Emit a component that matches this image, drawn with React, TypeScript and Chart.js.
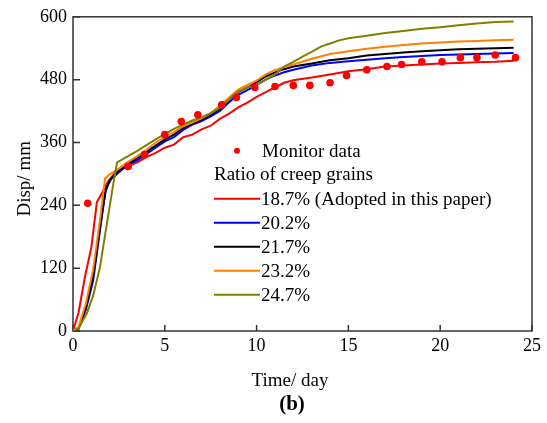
import React, { useEffect, useRef } from 'react';
import { Chart, registerables } from 'chart.js';

Chart.register(...registerables);

// ---- data ----
const monitorDays = [0.8, 3, 3.9, 5, 5.9, 6.8, 8.1, 8.9, 9.9, 11, 12, 12.9, 14, 14.9, 16, 17.1, 17.9, 19, 20.1, 21.1, 22, 23, 24.1];
const monitorDisp = [244, 314, 337, 375, 400, 413, 432, 446, 465, 467, 469, 469, 474, 488, 499, 505, 509, 514, 514, 522, 522, 527, 522];

const r187Days = [0, 0.3, 0.65, 1.0, 1.3, 1.6, 1.9, 2.3, 3, 3.5, 4, 4.5, 5, 5.5, 6, 6.5, 7, 7.5, 8, 8.5, 9, 9.5, 10, 10.5, 11, 11.5, 12, 13, 14, 15, 16, 17, 18, 19, 20, 21, 22, 23, 24];
const r187Disp = [0, 35, 103, 160, 246, 265, 285, 303, 315, 322, 332, 340, 350, 356, 370, 375, 385, 392, 405, 415, 427, 436, 447, 456, 465, 474, 479, 484, 490, 496, 500, 505, 507, 509, 511, 512, 513, 514, 516];

const r202Days = [0, 0.3, 0.7, 1.1, 1.47, 1.74, 2.0, 2.5, 3, 3.5, 4, 4.5, 5, 5.5, 6, 6.5, 7, 7.5, 8, 8.5, 9, 9.5, 10, 10.5, 11, 11.5, 12, 13, 14, 15, 16, 17, 18, 19, 20, 21, 22, 23, 24];
const r202Disp = [0, 4, 40, 97, 192, 263, 288, 303, 318, 326, 338, 350, 362, 370, 384, 394, 401, 410, 420, 437, 451, 460, 470, 480, 488, 494, 499, 507, 512, 515, 518, 521, 523, 525, 527, 528, 529, 530, 531];

const r217Days = [0, 0.3, 0.7, 1.1, 1.5, 1.8, 2.1, 2.5, 3, 3.5, 4, 4.5, 5, 5.5, 6, 6.5, 7, 7.5, 8, 8.5, 9, 9.5, 10, 10.5, 11, 11.5, 12, 13, 14, 15, 16, 17, 18, 19, 20, 21, 22, 23, 24];
const r217Disp = [0, 5, 45, 105, 205, 272, 292, 306, 320, 330, 342, 354, 366, 375, 388, 396, 404, 413, 424, 442, 456, 465, 475, 486, 494, 500, 505, 511, 517, 521, 526, 529, 532, 534, 536, 538, 539, 540, 541];

const r232Days = [0, 0.3, 0.7, 1.1, 1.5, 1.74, 2.0, 2.5, 3, 3.5, 4, 4.5, 5, 5.5, 6, 6.5, 7, 7.5, 8, 8.5, 9, 9.5, 10, 10.5, 11, 11.5, 12, 13, 14, 15, 16, 17, 18, 19, 20, 21, 22, 23, 24];
const r232Disp = [0, 8, 52, 118, 220, 291, 299, 310, 323, 334, 346, 360, 370, 380, 391, 398, 406, 416, 430, 446, 461, 470, 478, 490, 498, 504, 509, 520, 529, 534, 539, 543, 546, 549, 551, 553, 554, 555, 556];

const r247Days = [0, 0.3, 0.76, 1.1, 1.47, 1.85, 2.2, 2.4, 3.1, 3.5, 4, 4.5, 5, 5.5, 6, 6.5, 7, 7.5, 8, 8.5, 9, 9.5, 10, 10.5, 11, 11.5, 12, 12.5, 13, 13.5, 14, 14.5, 15, 16, 17, 18, 19, 20, 21, 22, 23, 24];
const r247Disp = [0, 5, 34, 68, 122, 206, 282, 322, 336, 344, 355, 366, 376, 386, 394, 402, 408, 416, 426, 442, 457, 465, 470, 480, 490, 505, 514, 524, 533, 543, 549, 555, 559, 564, 569, 573, 577, 580, 584, 587, 590, 591];

const monitorLabel = 'Monitor data';
const legendTitle = 'Ratio of creep grains';
const seriesLabels = ['18.7% (Adopted in this paper)', '20.2%', '21.7%', '23.2%', '24.7%'];
const seriesColors = ['#ff0000', '#0000ff', '#000000', '#ff8000', '#808000'];
const xTicks = [0, 5, 10, 15, 20, 25];
const yTicks = [0, 120, 240, 360, 480, 600];
const xTitle = 'Time/ day';
const yTitle = 'Disp/ mm';
const panelLabel = '(b)';

const FONT = "'Liberation Serif', 'Times New Roman', serif";

const zip = (xs: number[], ys: number[]) => xs.map((x, i) => ({ x, y: ys[i] }));

const decor = {
  id: 'decor',
  beforeDatasetsDraw(chart: any) {
    const { ctx, chartArea: a, scales } = chart;
    ctx.save();
    ctx.strokeStyle = '#333';
    ctx.lineWidth = 1.5;
    ctx.strokeRect(a.left, a.top, a.right - a.left, a.bottom - a.top);
    ctx.beginPath();
    for (const v of xTicks) {
      const px = scales.x.getPixelForValue(v);
      ctx.moveTo(px, a.bottom);
      ctx.lineTo(px, a.bottom - 6);
    }
    for (const v of yTicks) {
      const py = scales.y.getPixelForValue(v);
      ctx.moveTo(a.left, py);
      ctx.lineTo(a.left + 7, py);
    }
    ctx.stroke();
    ctx.restore();
  },
  afterDraw(chart: any) {
    const { ctx, chartArea: a } = chart;
    ctx.save();
    ctx.fillStyle = '#000';
    ctx.textBaseline = 'middle';
    // axis titles
    ctx.font = `19px ${FONT}`;
    ctx.textAlign = 'center';
    ctx.fillText(xTitle, a.left + 217, a.bottom + 50);
    ctx.font = `bold 21px ${FONT}`;
    ctx.fillText(panelLabel, a.left + 219, a.bottom + 74);
    ctx.font = `19px ${FONT}`;
    ctx.save();
    ctx.translate(a.left - 48, a.top + 162);
    ctx.rotate(-Math.PI / 2);
    ctx.fillText(yTitle, 0, 0);
    ctx.restore();

    // legend
    const lx = a.left + 141;
    const tx = a.left + 189;
    let y = a.top + 134;
    ctx.textAlign = 'left';
    ctx.fillStyle = '#ff0000';
    ctx.beginPath();
    ctx.arc(a.left + 164, y, 3, 0, Math.PI * 2);
    ctx.fill();
    ctx.fillStyle = '#000';
    ctx.fillText(monitorLabel, tx, y + 1);
    y += 24;
    ctx.fillText(legendTitle, lx, y);
    y += 24;
    ctx.lineWidth = 2;
    seriesLabels.forEach((lab, i) => {
      ctx.strokeStyle = seriesColors[i];
      ctx.beginPath();
      ctx.moveTo(lx, y);
      ctx.lineTo(lx + 46, y);
      ctx.stroke();
      ctx.fillText(lab, tx - 1, y + 1);
      y += 24;
    });
    ctx.restore();
  },
};

export default function App() {
  const ref = useRef<HTMLCanvasElement>(null);

  useEffect(() => {
    if (!ref.current) return;
    Chart.defaults.font.family = FONT;
    Chart.defaults.color = '#000';
    const lineSets = [
      [r187Days, r187Disp],
      [r202Days, r202Disp],
      [r217Days, r217Disp],
      [r232Days, r232Disp],
      [r247Days, r247Disp],
    ];
    const chart = new Chart(ref.current, {
      type: 'scatter',
      data: {
        datasets: [
          {
            label: monitorLabel,
            data: zip(monitorDays, monitorDisp),
            showLine: false,
            pointRadius: 3.8,
            pointBackgroundColor: '#ff0000',
            pointBorderWidth: 0,
            order: 0,
          } as any,
          ...lineSets.map(([xs, ys], i) => ({
            label: seriesLabels[i],
            data: zip(xs, ys),
            showLine: true,
            borderColor: seriesColors[i],
            borderWidth: 2,
            pointRadius: 0,
            tension: 0,
            order: 5 - i,
          })),
        ],
      },
      options: {
        responsive: false,
        animation: false,
        layout: { padding: { left: 0, top: 16, right: 15, bottom: 0 } },
        plugins: { legend: { display: false }, tooltip: { enabled: false } },
        scales: {
          x: {
            type: 'linear',
            min: 0,
            max: 25,
            afterBuildTicks: (s: any) => { s.ticks = xTicks.map((v) => ({ value: v })); },
            ticks: { font: { size: 18, family: FONT }, padding: 4, color: '#000' },
            grid: { display: false, drawTicks: false },
            border: { display: false },
            afterFit: (s: any) => { s.height = 92; },
          },
          y: {
            type: 'linear',
            min: 0,
            max: 600,
            afterBuildTicks: (s: any) => { s.ticks = yTicks.map((v) => ({ value: v })); },
            ticks: { font: { size: 18, family: FONT }, padding: 6, color: '#000' },
            grid: { display: false, drawTicks: false },
            border: { display: false },
            afterFit: (s: any) => { s.width = 73; },
          },
        },
      },
      plugins: [decor],
    });
    return () => chart.destroy();
  }, []);

  return (
    <div style={{ position: 'absolute', left: 0, top: 0, width: 547, height: 423, background: '#fff' }}>
      <canvas ref={ref} width={547} height={423} />
    </div>
  );
}
